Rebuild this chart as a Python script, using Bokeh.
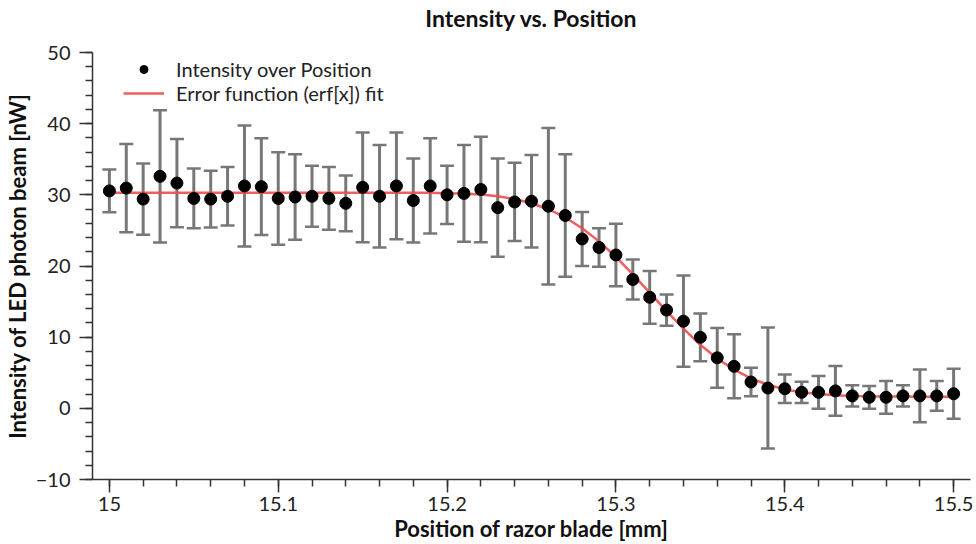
from bokeh.plotting import figure
from bokeh.models import (Range1d, Whisker, TeeHead, ColumnDataSource, Legend, LegendItem,
                          FixedTicker, SingleIntervalTicker, CustomJSTickFormatter, Title)
from bokeh.embed import file_html
from bokeh.resources import INLINE

# ---- data ----
position = [15.00, 15.01, 15.02, 15.03, 15.04, 15.05, 15.06, 15.07, 15.08, 15.09,
            15.10, 15.11, 15.12, 15.13, 15.14, 15.15, 15.16, 15.17, 15.18, 15.19,
            15.20, 15.21, 15.22, 15.23, 15.24, 15.25, 15.26, 15.27, 15.28, 15.29,
            15.30, 15.31, 15.32, 15.33, 15.34, 15.35, 15.36, 15.37, 15.38, 15.39,
            15.40, 15.41, 15.42, 15.43, 15.44, 15.45, 15.46, 15.47, 15.48, 15.49,
            15.50]
intensity = [30.55, 30.95, 29.4, 32.6, 31.65, 29.5, 29.4, 29.8, 31.25, 31.15,
             29.5, 29.7, 29.8, 29.5, 28.8, 31.05, 29.8, 31.25, 29.2, 31.25,
             30.0, 30.2, 30.75, 28.2, 29.0, 29.1, 28.4, 27.1, 23.8, 22.6,
             21.55, 18.1, 15.6, 13.8, 12.25, 9.98, 7.1, 5.9, 3.7, 2.85,
             2.75, 2.25, 2.25, 2.45, 1.75, 1.55, 1.55, 1.75, 1.75, 1.75,
             2.05]
error = [3.0, 6.2, 5.0, 9.3, 6.2, 4.2, 4.0, 4.1, 8.5, 6.8,
         6.5, 6.0, 4.3, 4.4, 3.9, 7.7, 7.2, 7.5, 5.9, 6.7,
         4.1, 6.8, 7.4, 6.9, 5.5, 6.5, 11.0, 8.6, 3.8, 2.7,
         4.4, 2.8, 3.7, 2.2, 6.4, 3.35, 4.2, 4.5, 2.0, 8.5,
         2.0, 1.5, 2.3, 3.5, 1.5, 1.6, 2.3, 1.5, 3.7, 2.1,
         3.5]
fit_position = position
fit_intensity = [30.3, 30.3, 30.3, 30.3, 30.3, 30.3, 30.3, 30.3, 30.3, 30.3,
                 30.3, 30.3, 30.3, 30.3, 30.3, 30.3, 30.3, 30.3, 30.3, 30.28,
                 30.24, 30.16, 30.04, 29.8, 29.42, 28.82, 27.98, 26.82, 25.31, 23.46,
                 21.28, 18.83, 16.26, 13.66, 11.19, 8.93, 7.01, 5.43, 4.21, 3.31,
                 2.66, 2.26, 2.0, 1.84, 1.75, 1.69, 1.66, 1.65, 1.64, 1.64,
                 1.64]
x_major_ticks = [15.0, 15.1, 15.2, 15.3, 15.4, 15.5]
x_minor_ticks = [round(15.0 + 0.02 * i, 2) for i in range(26)]

lower = [v - e for v, e in zip(intensity, error)]
upper = [v + e for v, e in zip(intensity, error)]
src = ColumnDataSource(dict(x=position, y=intensity, lower=lower, upper=upper))

p = figure(width=976, height=544, output_backend="svg", toolbar_location=None,
           x_range=Range1d(14.99, 15.51), y_range=Range1d(-10, 50),
           min_border_left=91, min_border_right=6, min_border_top=52, min_border_bottom=65,
           title=None)
p.outline_line_color = None
p.grid.visible = False
p.background_fill_color = "white"
p.border_fill_color = "white"

# spacer between frame and title, then the title itself (stacked further out)
p.add_layout(Title(text=" ", text_font_size="1px", standoff=18), "above")
p.add_layout(Title(text="Intensity vs. Position", align="center", text_font="Lato",
                   text_font_style="bold", text_font_size="23px", text_color="#111111",
                   standoff=0), "above")

p.xaxis.ticker = FixedTicker(ticks=x_major_ticks, minor_ticks=x_minor_ticks)
p.xaxis.formatter = CustomJSTickFormatter(code="return String(Math.round(tick*10)/10);")
p.yaxis.ticker = SingleIntervalTicker(interval=10, num_minor_ticks=5)
p.yaxis.formatter = CustomJSTickFormatter(
    code="return tick < 0 ? '\u2212' + Math.abs(tick) : String(tick);")

for ax in (p.xaxis[0], p.yaxis[0]):
    ax.axis_line_color = "#333333"
    ax.axis_line_width = 1.5
    ax.major_tick_line_color = "#333333"
    ax.major_tick_line_width = 1.5
    ax.minor_tick_line_color = "#333333"
    ax.minor_tick_line_width = 1.5
    ax.major_tick_in = 0
    ax.major_tick_out = 13
    ax.minor_tick_in = 0
    ax.minor_tick_out = 7
    ax.major_label_text_font = "Lato"
    ax.major_label_text_font_size = "20px"
    ax.major_label_text_color = "#222222"
    ax.axis_label_text_font = "Lato"
    ax.axis_label_text_font_style = "bold"
    ax.axis_label_text_font_size = "22px"
    ax.axis_label_text_color = "#111111"

p.xaxis.axis_label = "Position of razor blade [mm]"
p.yaxis.axis_label = "Intensity of LED photon beam [nW]"
p.xaxis.major_label_standoff = 4
p.yaxis.major_label_standoff = 9
p.xaxis.axis_label_standoff = 1
p.yaxis.axis_label_standoff = 2

# error bars
bar_color = "#777777"
w = Whisker(source=src, base="x", upper="upper", lower="lower",
            line_color=bar_color, line_width=3, level="underlay",
            upper_head=TeeHead(size=14, line_color=bar_color, line_width=2.5),
            lower_head=TeeHead(size=14, line_color=bar_color, line_width=2.5))
p.add_layout(w)

r_fit = p.line(fit_position, fit_intensity, line_color="#f04c4c", line_width=2.5, line_alpha=0.9)
r_pts = p.scatter("x", "y", source=src, size=12, color="black")

legend = Legend(items=[LegendItem(label="Intensity over Position", renderers=[r_pts]),
                       LegendItem(label="Error function (erf[x]) fit", renderers=[r_fit])],
                location=(31, 374), border_line_color=None, background_fill_alpha=0,
                glyph_width=41, glyph_height=20, label_standoff=12, spacing=0,
                padding=0, margin=0, label_text_font="Lato", label_text_font_size="20px",
                label_text_color="#222222", label_height=20)
p.add_layout(legend)

open("out.html", "w").write(file_html(p, INLINE))
